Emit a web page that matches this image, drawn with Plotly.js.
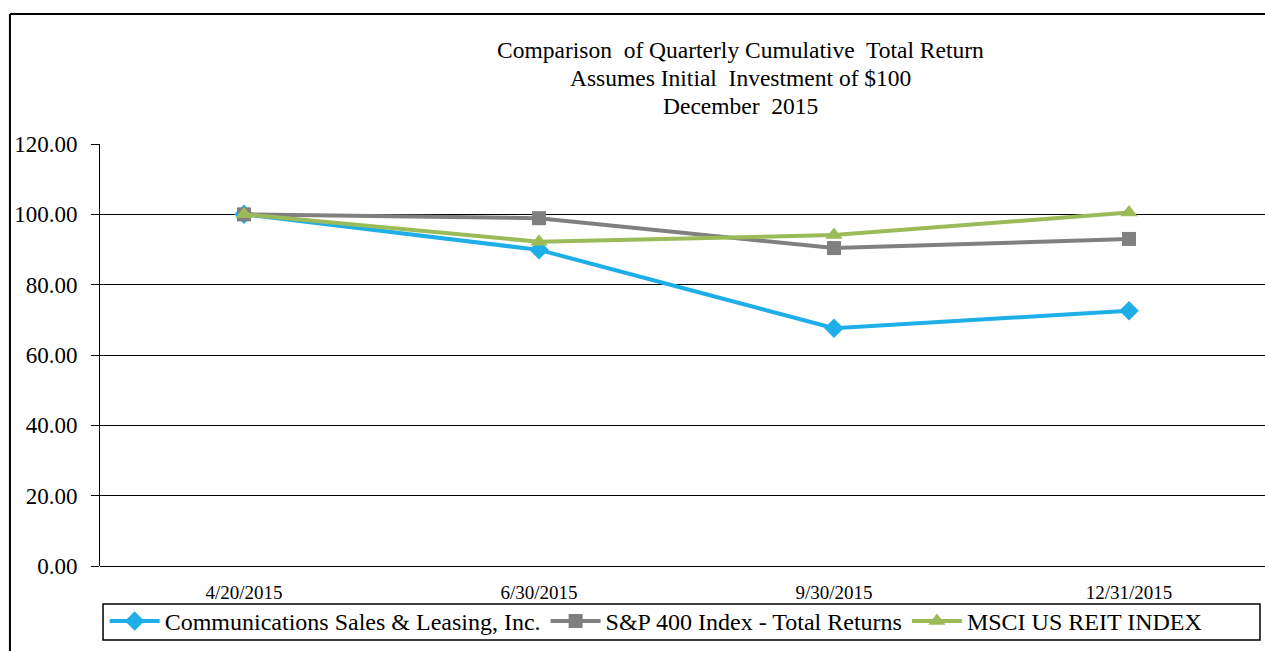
<!DOCTYPE html>
<html>
<head>
<meta charset="utf-8">
<script src="https://cdn.plot.ly/plotly-3.0.1.min.js"></script>
<style>
html,body{margin:0;padding:0;background:#fff;}
#chart{width:1265px;height:651px;}
</style>
</head>
<body>
<div id="chart"></div>
<script>
const dates = ["4/20/2015", "6/30/2015", "9/30/2015", "12/31/2015"];
const seriesNames = ["Communications Sales & Leasing, Inc.", "S&P 400 Index - Total Returns", "MSCI US REIT INDEX"];
const csalValues = [100.00, 89.90, 67.60, 72.60];
const sp400Values = [100.00, 98.90, 90.40, 93.00];
const reitValues = [100.00, 92.20, 94.10, 100.50];
const yTicks = [0, 20, 40, 60, 80, 100, 120];
const titleLines = ["Comparison  of Quarterly Cumulative  Total Return", "Assumes Initial  Investment of $100", "December  2015"];

const serif = "Liberation Serif, Times New Roman, serif";

const traces = [
  {x: dates, y: csalValues, name: seriesNames[0], type: "scatter", mode: "lines+markers",
   line: {color: "#1EAEE8", width: 4}, marker: {symbol: "diamond", size: 15, color: "#1EAEE8"}},
  {x: dates, y: sp400Values, name: seriesNames[1], type: "scatter", mode: "lines+markers",
   line: {color: "#808080", width: 4}, marker: {symbol: "square", size: 14, color: "#808080"}},
  {x: dates, y: reitValues, name: seriesNames[2], type: "scatter", mode: "lines+markers",
   line: {color: "#9BBB59", width: 4}, marker: {symbol: "triangle-up", size: 15, color: "#9BBB59"}}
];

const titleY = [1.2227, 1.1564, 1.0900];
const annotations = titleLines.map((t, i) => ({
  text: t, xref: "paper", yref: "paper", x: 0.5498, y: titleY[i],
  xanchor: "center", yanchor: "middle", showarrow: false,
  font: {family: serif, size: 23.5, color: "#000"}
}));

const layout = {
  width: 1265, height: 651,
  margin: {l: 100, r: 0, t: 144, b: 85, pad: 0},
  paper_bgcolor: "#fff", plot_bgcolor: "#fff",
  font: {family: serif, size: 18, color: "#000"},
  xaxis: {
    type: "category", range: [-0.488, 3.461],
    showgrid: false, showline: false, zeroline: false,
    ticks: "", ticklabelstandoff: 13,
    tickfont: {family: serif, size: 19, color: "#000"},
    fixedrange: true
  },
  yaxis: {
    range: [0, 120], tickvals: yTicks, tickformat: ".2f",
    showgrid: true, gridcolor: "#000", gridwidth: 1,
    zeroline: true, zerolinecolor: "#000", zerolinewidth: 1,
    showline: true, linecolor: "#000", linewidth: 1,
    ticks: "outside", ticklen: 8, tickcolor: "#000", ticklabelstandoff: 9,
    tickfont: {family: serif, size: 23, color: "#000"},
    fixedrange: true
  },
  showlegend: true,
  legend: {
    orientation: "h", x: 0.004, xanchor: "left", y: -0.078, yanchor: "top",
    font: {family: serif, size: 24, color: "#000"},
    bgcolor: "rgba(0,0,0,0)", borderwidth: 0, itemwidth: 50
  },
  annotations: annotations,
  shapes: [
    {type: "line", xref: "paper", yref: "paper", x0: -0.0773, x1: 1.05, y0: 1.308, y1: 1.308, line: {color: "#000", width: 2}},
    {type: "line", xref: "paper", yref: "paper", x0: -0.0773, x1: -0.0773, y0: 1.308, y1: -0.3, line: {color: "#000", width: 2}},
    {type: "rect", xref: "paper", yref: "paper", x0: 0.0026, x1: 0.9957, y0: -0.1754, y1: -0.0900, line: {color: "#000", width: 1.5}}
  ]
};

Plotly.newPlot("chart", traces, layout, {displayModeBar: false, staticPlot: true});
</script>
</body>
</html>
